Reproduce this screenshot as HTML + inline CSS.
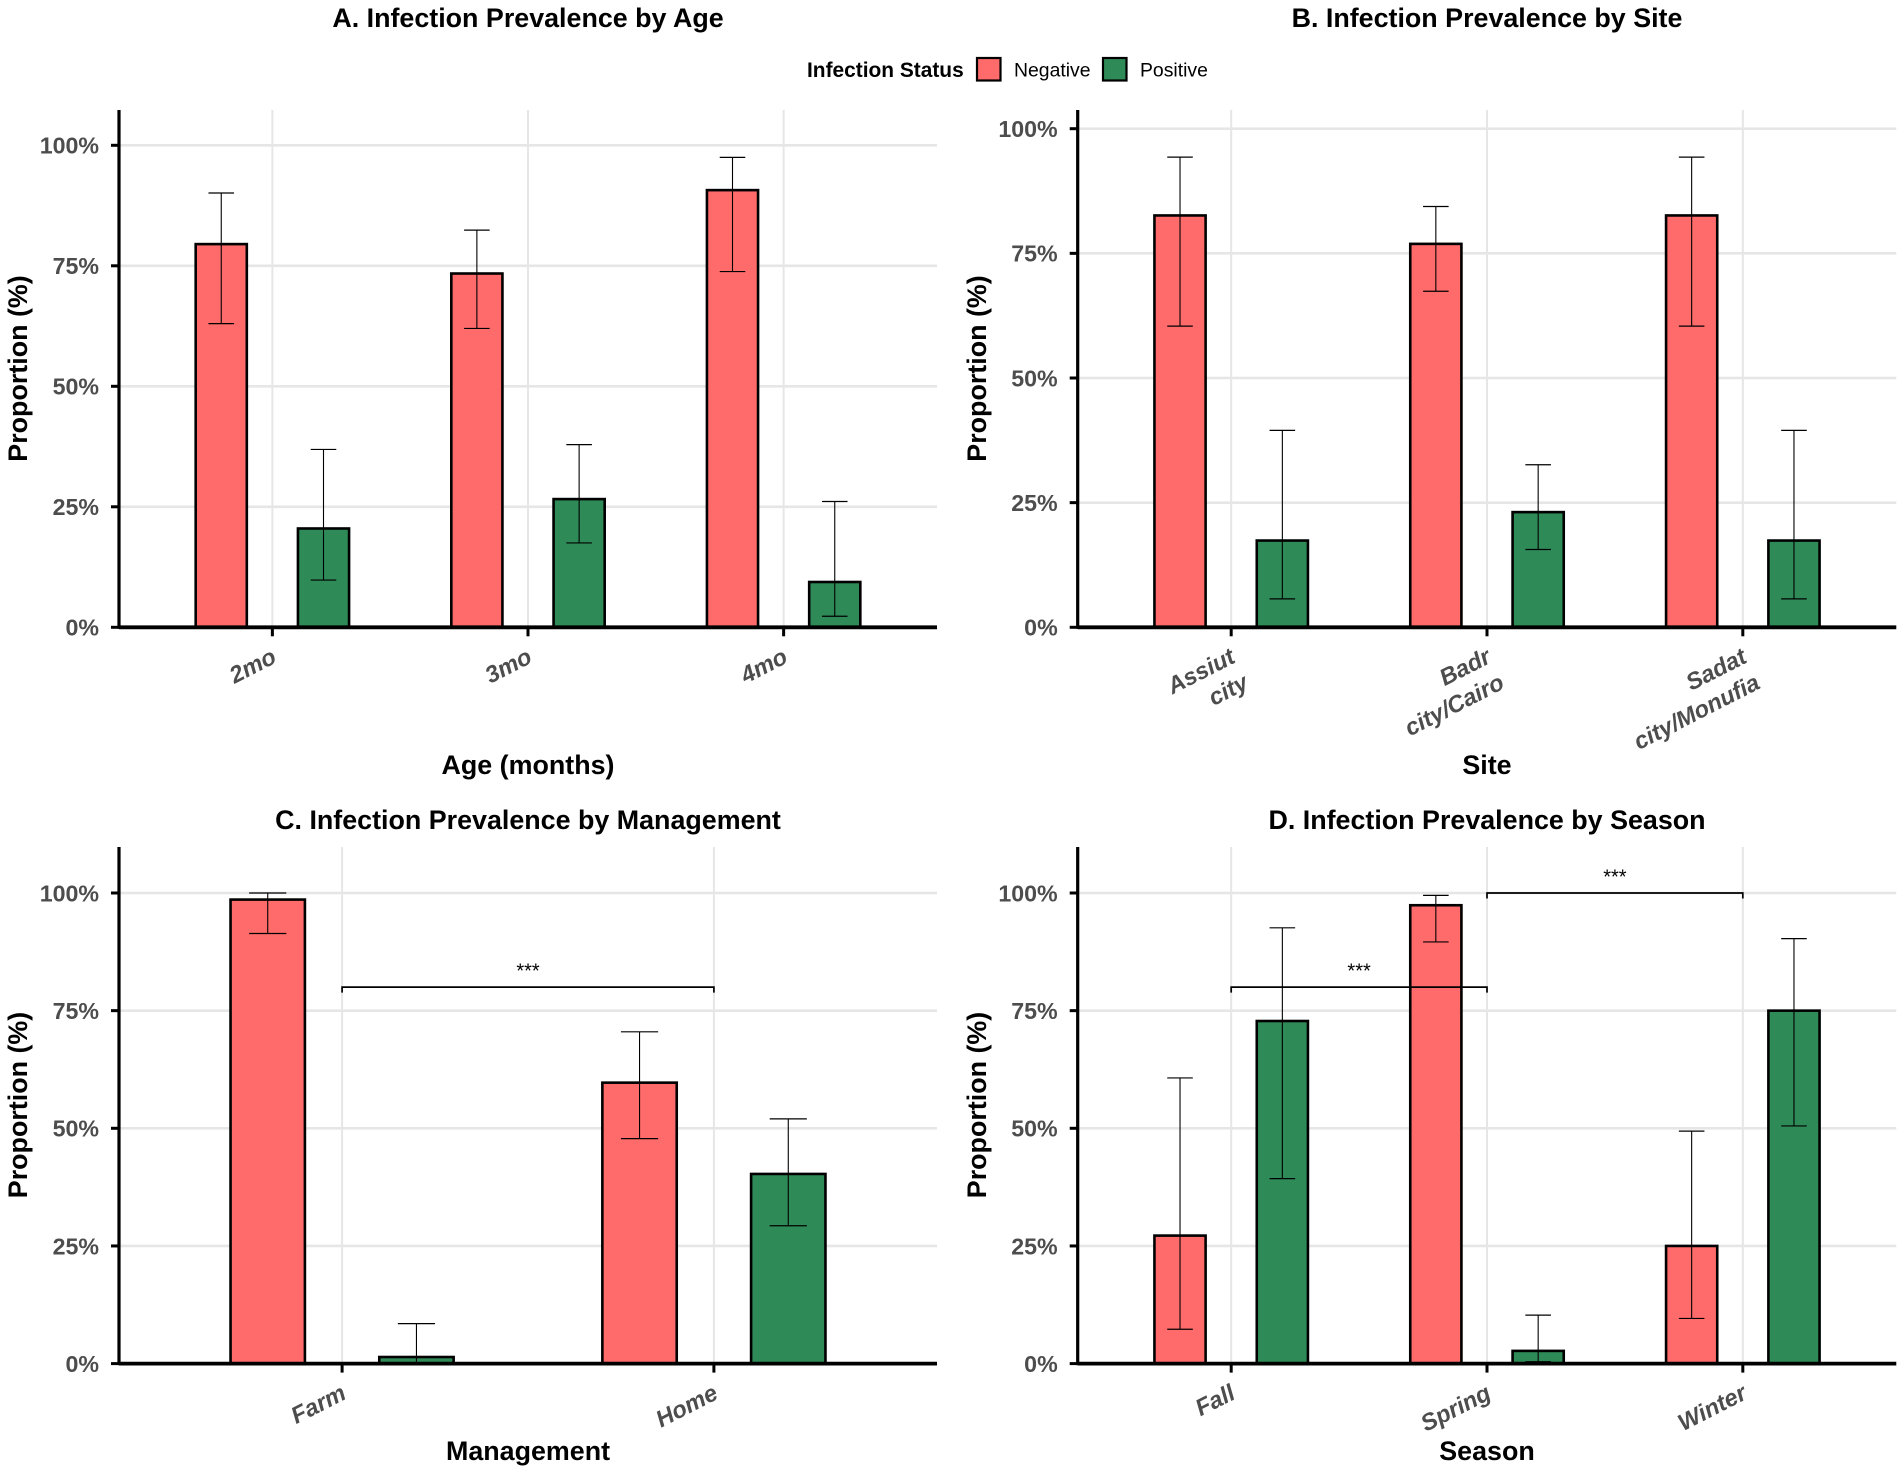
<!DOCTYPE html>
<html lang="en">
<head>
<meta charset="utf-8">
<title>Infection Prevalence</title>
<style>
html,body{margin:0;padding:0;background:#fff;}
svg{display:block;font-family:"Liberation Sans",Arial,sans-serif;}
.title,.axis-title{font-weight:700;font-size:26.85px;fill:#000;text-anchor:middle;}
.ytick{font-weight:700;font-size:23.2px;fill:#4d4d4d;text-anchor:end;}
.xtick{font-weight:700;font-style:italic;font-size:23.6px;fill:#4d4d4d;text-anchor:end;}
.legend-title{font-weight:700;font-size:20.9px;fill:#000;}
.legend-label{font-size:19.4px;fill:#000;}
.stars{font-size:20px;fill:#000;text-anchor:middle;}
</style>
</head>
<body>
<svg id="figure" xmlns="http://www.w3.org/2000/svg" width="1902" height="1472" viewBox="0 0 1902 1472">
  <rect x="0" y="0" width="1902" height="1472" fill="#fff"/>
  <g id="panel-a"></g>
  <g id="panel-b"></g>
  <g id="panel-c"></g>
  <g id="panel-d"></g>

  <text class="title" x="528" y="27">A. Infection Prevalence by Age</text>
  <text class="title" x="1487" y="27">B. Infection Prevalence by Site</text>
  <text class="title" x="528" y="829">C. Infection Prevalence by Management</text>
  <text class="title" x="1487" y="829">D. Infection Prevalence by Season</text>

  <text class="axis-title" x="528" y="774">Age (months)</text>
  <text class="axis-title" x="1487" y="774">Site</text>
  <text class="axis-title" x="528" y="1460">Management</text>
  <text class="axis-title" x="1487" y="1460">Season</text>

  <text class="axis-title" transform="translate(27 368.5) rotate(-90)">Proportion (%)</text>
  <text class="axis-title" transform="translate(986 368.5) rotate(-90)">Proportion (%)</text>
  <text class="axis-title" transform="translate(27 1105) rotate(-90)">Proportion (%)</text>
  <text class="axis-title" transform="translate(986 1105) rotate(-90)">Proportion (%)</text>

  <g>
    <text class="legend-title" x="807" y="77">Infection Status</text>
    <rect x="977" y="58" width="23.5" height="22.5" fill="#FF6B6B" stroke="#000" stroke-width="2.2"/>
    <text class="legend-label" x="1014" y="76.5">Negative</text>
    <rect x="1103" y="58" width="23.5" height="22.5" fill="#2E8B57" stroke="#000" stroke-width="2.2"/>
    <text class="legend-label" x="1140" y="76.5">Positive</text>
  </g>
</svg>
<script>
// ---------- shared axis data ----------
var yTickValues = [0, 25, 50, 75, 100];
var yTickLabels = ['0%', '25%', '50%', '75%', '100%'];

// ---------- panel A: age ----------
var ageCategories = ['2mo', '3mo', '4mo'];
var ageNegative = [79.5, 73.4, 90.7];
var ageNegativeLow = [63.0, 62.0, 73.8];
var ageNegativeHigh = [90.1, 82.4, 97.5];
var agePositive = [20.5, 26.6, 9.4];
var agePositiveLow = [9.8, 17.5, 2.3];
var agePositiveHigh = [36.9, 37.9, 26.1];

// ---------- panel B: site ----------
var siteCategories = ['Assiut\ncity', 'Badr\ncity/Cairo', 'Sadat\ncity/Monufia'];
var siteNegative = [82.6, 76.9, 82.6];
var siteNegativeLow = [60.4, 67.4, 60.4];
var siteNegativeHigh = [94.3, 84.4, 94.3];
var sitePositive = [17.4, 23.1, 17.4];
var sitePositiveLow = [5.7, 15.6, 5.7];
var sitePositiveHigh = [39.5, 32.6, 39.5];

// ---------- panel C: management ----------
var managementCategories = ['Farm', 'Home'];
var managementNegative = [98.6, 59.7];
var managementNegativeLow = [91.4, 47.8];
var managementNegativeHigh = [100, 70.5];
var managementPositive = [1.4, 40.3];
var managementPositiveLow = [0.1, 29.3];
var managementPositiveHigh = [8.5, 52.0];
var managementBracketFrom = [0];
var managementBracketTo = [1];
var managementBracketLevel = [80];
var managementBracketLabel = ['***'];

// ---------- panel D: season ----------
var seasonCategories = ['Fall', 'Spring', 'Winter'];
var seasonNegative = [27.2, 97.4, 25.0];
var seasonNegativeLow = [7.3, 89.6, 9.6];
var seasonNegativeHigh = [60.7, 99.5, 49.4];
var seasonPositive = [72.8, 2.7, 75.0];
var seasonPositiveLow = [39.3, 0.4, 50.5];
var seasonPositiveHigh = [92.6, 10.3, 90.3];
var seasonBracketFrom = [0, 1];
var seasonBracketTo = [1, 2];
var seasonBracketLevel = [80, 100];
var seasonBracketLabel = ['***', '***'];

var SVG_NS = 'http://www.w3.org/2000/svg';

function mk(parent, tag, attrs) {
  var el = document.createElementNS(SVG_NS, tag);
  for (var k in attrs) { el.setAttribute(k, attrs[k]); }
  parent.appendChild(el);
  return el;
}

function drawPanel(cfg) {
  var g = document.getElementById(cfg.id);
  var cats = cfg.categories;
  var step = (cfg.right - cfg.left) / (cats.length - 1 + 1.2);
  function xScale(pos) { return cfg.left + (pos + 0.6) * step; }
  function yScale(v) { return cfg.y0 - (v / 100) * (cfg.y0 - cfg.y100); }

  var i, el;

  // horizontal grid
  for (i = 0; i < yTickValues.length; i++) {
    if (yTickValues[i] === 0) { continue; }
    el = mk(g, 'line', {x1: cfg.left, x2: cfg.right, y1: yScale(yTickValues[i]), y2: yScale(yTickValues[i]), stroke: '#e6e6e6', 'stroke-width': 2.6});
    
    
  }
  // vertical grid
  for (i = 0; i < cats.length; i++) {
    el = mk(g, 'line', {x1: xScale(i), x2: xScale(i), y1: cfg.top, y2: cfg.y0, stroke: '#e6e6e6', 'stroke-width': 2});
    
    
  }

  // bars
  var series = [
    {key: 'negative', vals: cfg.neg, low: cfg.negLow, high: cfg.negHigh, fill: '#FF6B6B', off: -0.2},
    {key: 'positive', vals: cfg.pos, low: cfg.posLow, high: cfg.posHigh, fill: '#2E8B57', off: 0.2}
  ];
  var barW = 0.2 * step;
  var capW = 0.1 * step;
  series.forEach(function (s) {
    for (var j = 0; j < cats.length; j++) {
      var cx = xScale(j + s.off);
      var yTop = yScale(s.vals[j]);
      var bar = mk(g, 'rect', {x: cx - barW / 2, y: yTop, width: barW, height: cfg.y0 - yTop, fill: s.fill, stroke: '#000', 'stroke-width': 2.6});
      
      
    }
  });

  // axes
  el = mk(g, 'line', {x1: cfg.left, x2: cfg.left, y1: cfg.top, y2: cfg.y0 + 1.5, stroke: '#000', 'stroke-width': 3.2});
  
  
  el = mk(g, 'line', {x1: cfg.left, x2: cfg.right, y1: cfg.y0, y2: cfg.y0, stroke: '#000', 'stroke-width': 3.8});
  
  

  // error bars (over the bars and axis)
  series.forEach(function (s) {
    for (var j = 0; j < cats.length; j++) {
      var cx = xScale(j + s.off);
      var yHi = yScale(s.high[j]);
      var yLo = yScale(s.low[j]);
      var stem = mk(g, 'line', {x1: cx, x2: cx, y1: yHi, y2: yLo, stroke: '#000', 'stroke-width': 1.1});
      
      
      var capHi = mk(g, 'line', {x1: cx - capW / 2, x2: cx + capW / 2, y1: yHi, y2: yHi, stroke: '#000', 'stroke-width': 1.2});
      
      
      var capLo = mk(g, 'line', {x1: cx - capW / 2, x2: cx + capW / 2, y1: yLo, y2: yLo, stroke: '#000', 'stroke-width': 1.2});
      
      
    }
  });

  // y ticks
  for (i = 0; i < yTickValues.length; i++) {
    var ty = yScale(yTickValues[i]);
    el = mk(g, 'line', {x1: cfg.left - 8, x2: cfg.left, y1: ty, y2: ty, stroke: '#000', 'stroke-width': 3});
    
    
    el = mk(g, 'text', {x: cfg.left - 20, y: ty + 8.3, 'class': 'ytick'});
    
    
    el.textContent = yTickLabels[i];
  }

  // x ticks and labels
  for (i = 0; i < cats.length; i++) {
    var tx = xScale(i);
    el = mk(g, 'line', {x1: tx, x2: tx, y1: cfg.y0, y2: cfg.y0 + 9, stroke: '#000', 'stroke-width': 3});
    
    
    var lines = cats[i].split('\n');
    el = mk(g, 'text', {'class': 'xtick', transform: 'translate(' + (tx + 5.5) + ' ' + (cfg.y0 + 34.5) + ') rotate(-27)'});
    
    
    lines.forEach(function (line, idx) {
      var ts = mk(el, 'tspan', {x: 0, y: idx * 29});
      ts.textContent = line;
    });
  }

  // significance brackets
  (cfg.bFrom || []).forEach(function (from, b) {
    var x1 = xScale(from);
    var x2 = xScale(cfg.bTo[b]);
    var by = yScale(cfg.bLevel[b]);
    var tipLen = 5.5;
    var path = mk(g, 'path', {d: 'M' + x1 + ' ' + (by + tipLen) + 'V' + by + 'H' + x2 + 'V' + (by + tipLen), fill: 'none', stroke: '#000', 'stroke-width': 1.7});
    
    
    var star = mk(g, 'text', {x: (x1 + x2) / 2, y: by - 9.5, 'class': 'stars'});
    
    
    star.textContent = cfg.bLabel[b];
  });
}

drawPanel({id: 'panel-a', left: 119, right: 937, top: 110, y0: 627.3, y100: 145.3,
  categories: ageCategories, neg: ageNegative, negLow: ageNegativeLow, negHigh: ageNegativeHigh,
  pos: agePositive, posLow: agePositiveLow, posHigh: agePositiveHigh});
drawPanel({id: 'panel-b', left: 1077.7, right: 1896.3, top: 110, y0: 627.3, y100: 128.7,
  categories: siteCategories, neg: siteNegative, negLow: siteNegativeLow, negHigh: siteNegativeHigh,
  pos: sitePositive, posLow: sitePositiveLow, posHigh: sitePositiveHigh});
drawPanel({id: 'panel-c', left: 119, right: 937, top: 847, y0: 1363.6, y100: 893,
  categories: managementCategories, neg: managementNegative, negLow: managementNegativeLow, negHigh: managementNegativeHigh,
  pos: managementPositive, posLow: managementPositiveLow, posHigh: managementPositiveHigh,
  bFrom: managementBracketFrom, bTo: managementBracketTo, bLevel: managementBracketLevel, bLabel: managementBracketLabel});
drawPanel({id: 'panel-d', left: 1077.7, right: 1896.3, top: 847, y0: 1363.6, y100: 893,
  categories: seasonCategories, neg: seasonNegative, negLow: seasonNegativeLow, negHigh: seasonNegativeHigh,
  pos: seasonPositive, posLow: seasonPositiveLow, posHigh: seasonPositiveHigh,
  bFrom: seasonBracketFrom, bTo: seasonBracketTo, bLevel: seasonBracketLevel, bLabel: seasonBracketLabel});
</script>
</body>
</html>
